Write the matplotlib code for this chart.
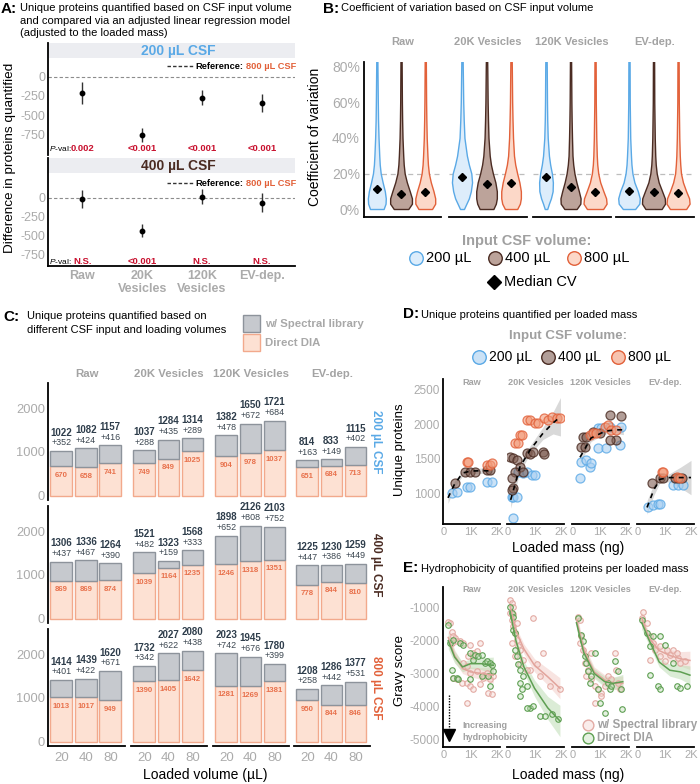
import matplotlib.pyplot as plt
from matplotlib.colors import to_rgba
import numpy as np

plt.rcParams['font.family'] = ['Liberation Sans', 'DejaVu Sans']
plt.rcParams['mathtext.fontset'] = 'custom'
plt.rcParams['mathtext.it'] = 'Liberation Sans:italic'
plt.rcParams['mathtext.rm'] = 'Liberation Sans'

# ---------------- data ----------------
facets = ['Raw', '20K Vesicles', '120K Vesicles', 'EV-dep.']
a_groups = ['Raw', '20K\nVesicles', '120K\nVesicles', 'EV-dep.']
volumes = ['200 µL', '400 µL', '800 µL']

# A: difference vs 800 uL reference (estimate, half CI)
a200_est = [-210, -760, -270, -340]
a200_ci = [150, 90, 100, 120]
a200_p = ['0.002', '<0.001', '<0.001', '<0.001']
a400_est = [-10, -430, 15, -60]
a400_ci = [120, 90, 100, 120]
a400_p = ['N.S.', '<0.001', 'N.S.', 'N.S.']

# B: violin outline (half width at each CV level) and median CV
cv_levels = [0, 3, 6, 10, 15, 20, 25, 30, 40, 50, 60, 80, 90]
cv_width_raw = [[0.28, 0.36, 0.37, 0.33, 0.24, 0.16, 0.12, 0.10, 0.07, 0.05, 0.04, 0.025, 0.02],
                [0.30, 0.45, 0.45, 0.36, 0.24, 0.15, 0.11, 0.09, 0.06, 0.045, 0.035, 0.025, 0.02],
                [0.28, 0.41, 0.41, 0.34, 0.23, 0.15, 0.11, 0.09, 0.06, 0.045, 0.035, 0.025, 0.02]]
cv_width_20k = [[0.08, 0.18, 0.28, 0.36, 0.41, 0.38, 0.28, 0.20, 0.10, 0.07, 0.05, 0.03, 0.02],
                [0.28, 0.38, 0.42, 0.42, 0.36, 0.26, 0.18, 0.13, 0.08, 0.06, 0.045, 0.03, 0.02],
                [0.25, 0.36, 0.40, 0.40, 0.34, 0.25, 0.17, 0.12, 0.08, 0.06, 0.045, 0.03, 0.02]]
cv_width_120k = [[0.05, 0.12, 0.20, 0.27, 0.28, 0.24, 0.17, 0.12, 0.07, 0.05, 0.04, 0.03, 0.02],
                 [0.25, 0.40, 0.41, 0.34, 0.24, 0.16, 0.11, 0.08, 0.06, 0.045, 0.035, 0.025, 0.02],
                 [0.33, 0.47, 0.45, 0.34, 0.21, 0.13, 0.09, 0.07, 0.05, 0.04, 0.03, 0.025, 0.02]]
cv_width_ev = [[0.25, 0.42, 0.44, 0.36, 0.22, 0.14, 0.10, 0.08, 0.05, 0.04, 0.03, 0.025, 0.02],
               [0.33, 0.47, 0.46, 0.35, 0.21, 0.13, 0.09, 0.07, 0.05, 0.04, 0.03, 0.025, 0.02],
               [0.33, 0.47, 0.45, 0.33, 0.20, 0.12, 0.09, 0.07, 0.05, 0.04, 0.03, 0.025, 0.02]]
cv_median = [[11.3, 8.5, 9.3], [18.0, 14.0, 14.6], [18.0, 12.4, 9.6], [10.4, 9.3, 8.8]]

# C: unique proteins (w/ spectral library total, direct DIA part)
c_total_200 = [[1022, 1082, 1157], [1037, 1284, 1314], [1382, 1650, 1721], [814, 833, 1115]]
c_dia_200 = [[670, 658, 741], [749, 849, 1025], [904, 978, 1037], [651, 684, 713]]
c_total_400 = [[1306, 1336, 1264], [1521, 1323, 1568], [1898, 2126, 2103], [1225, 1230, 1259]]
c_dia_400 = [[869, 869, 874], [1039, 1164, 1235], [1246, 1318, 1351], [778, 844, 810]]
c_total_800 = [[1414, 1439, 1620], [1732, 2027, 2080], [2023, 1945, 1780], [1208, 1286, 1377]]
c_dia_800 = [[1013, 1017, 949], [1390, 1405, 1642], [1281, 1269, 1381], [950, 844, 846]]
loaded_volume = ['20', '40', '80']

# D: unique proteins per loaded mass (ng)
d_mass_200 = [[300, 490, 870, 980, 1620, 1810],
              [150, 190, 340, 190, 380, 570, 720, 900, 1020],
              [265, 300, 490, 640, 680, 945, 1245, 945, 1060, 1400, 1775, 1810],
              [380, 565, 755, 830, 1320, 1510, 1700]]
d_prot_200 = [[1000, 1015, 1090, 1090, 1160, 1160],
              [940, 940, 940, 636, 1305, 1290, 1305, 1260, 1260],
              [1220, 1450, 1480, 1380, 1440, 1655, 1655, 1945, 1945, 1960, 1700, 1960],
              [796, 825, 840, 840, 1116, 1116, 1116]]
d_mass_400 = [[415, 790, 980, 1170, 1620, 1735],
              [75, 190, 340, 450, 570, 260, 150, 190, 720, 830, 940, 1320, 1360, 150],
              [300, 450, 380, 490, 755, 1020, 1400, 1810, 1620, 1400],
              [530, 830, 945, 1400, 1510, 1660]]
d_prot_400 = [[1145, 1305, 1305, 1305, 1335, 1335],
              [1524, 1510, 1480, 1380, 1305, 1305, 1220, 1070, 1580, 1570, 1600, 1600, 1570, 1045],
              [1670, 1670, 1815, 1815, 1890, 1870, 2135, 2120, 1770, 1770],
              [1145, 1220, 1220, 1220, 1220, 1220]]
d_mass_800 = [[870, 905, 1620, 1735, 1810],
              [264, 377, 453, 528, 717, 830, 1019, 1132, 1358, 1509, 1660, 1849, 1962],
              [640, 755, 870, 1210, 1320, 1430, 1620],
              [905, 945, 1470, 1585]]
d_prot_800 = [[1450, 1450, 1410, 1410, 1435],
              [1728, 1728, 1844, 1844, 2063, 2063, 2019, 2019, 2092, 2063, 2106, 2092, 2092],
              [1845, 1870, 1870, 1960, 1990, 1915, 1915],
              [1305, 1305, 1235, 1220]]
d_fit_x = [[150, 400, 700, 1000, 1500, 1850],
           [100, 450, 830, 1320, 1700, 1980],
           [265, 680, 1210, 1600, 1900],
           [340, 600, 830, 1200, 1600, 2000]]
d_fit_y = [[930, 1130, 1290, 1320, 1325, 1320],
           [900, 1380, 1625, 1870, 2020, 2110],
           [1520, 1800, 1900, 1920, 1920],
           [790, 1050, 1200, 1225, 1225, 1225]]
d_fit_se = [[80, 50, 40, 35, 40, 60],
            [120, 70, 60, 90, 160, 280],
            [90, 50, 40, 50, 70],
            [100, 80, 50, 60, 150, 250]]

# E: gravy score per loaded mass
e_mass_lib = [[163, 226, 289, 352, 415, 289, 477, 603, 729, 980, 1106, 1231, 1357, 917, 1106, 729, 854,
               980, 1231, 352, 477, 666, 854, 980, 1106, 854, 1483, 1608, 1734, 1671, 1797, 1860, 1357, 1483],
              [75, 138, 201, 75, 138, 201, 264, 327, 390, 452, 138, 264, 955, 1332, 829, 1081, 1206, 1583,
               1960, 452, 578, 704, 201, 327],
              [189, 252, 314, 252, 377, 440, 566, 503, 691, 817, 943, 1068, 1194, 1320, 1445, 1571, 1634,
               1697, 1760, 817, 1068, 691],
              [201, 138, 327, 452, 578, 640, 452, 829, 1081, 1206, 1332, 1520, 1583, 1772, 829, 1018, 1458]]
e_gravy_lib = [[-1415, -1465, -1718, -1869, -1920, -2071, -2021, -2021, -2071, -2122, -2374, -2324, -2071,
                -2475, -2475, -2677, -2778, -2980, -2930, -3132, -3182, -3283, -3283, -3384, -3485, -3889,
                -3031, -2980, -3182, -3586, -3637, -3081, -3334, -3132],
               [-760, -860, -960, -1160, -1360, -1560, -1760, -1970, -2170, -2270, -2070, -2470, -1310, -2374,
                -2879, -2700, -3081, -3384, -3485, -2700, -2600, -2900, -1180, -1460],
               [-1263, -1364, -1869, -2071, -2273, -2677, -2879, -3081, -3182, -3384, -3485, -3586, -3384,
                -3081, -3182, -2374, -2879, -3283, -3485, -3889, -3687, -2374],
               [-1112, -1314, -1465, -1869, -2071, -2273, -2576, -2172, -2273, -2425, -2273, -2525, -2677,
                -2627, -2475, -2627, -2374]]
e_mass_dia = [[163, 226, 352, 289, 352, 477, 540, 603, 729, 980, 1168, 1294, 1106, 1420, 1546, 1608, 1734,
               1797, 1671, 1734, 1420, 980, 1860],
              [138, 201, 264, 327, 452, 578, 704, 452, 829, 704, 955, 1206, 1395, 1646, 1898, 452, 515, 264,
               201, 75, 390],
              [189, 314, 377, 440, 503, 566, 691, 629, 943, 1006, 1194, 1383, 1320, 1571, 1697, 1822, 1860,
               1445, 817],
              [138, 327, 452, 578, 829, 1018, 766, 829, 452, 1458, 1583, 1835, 1332]]
e_gravy_dia = [[-1515, -2071, -1970, -2879, -3132, -3132, -3182, -2071, -2122, -2374, -2425, -2475, -2576,
                -2425, -2677, -2627, -2677, -2728, -3081, -3384, -3081, -3182, -2930],
               [-1162, -1667, -2273, -2475, -2879, -3081, -3384, -3687, -4040, -4040, -3990, -4293, -4293,
                -4242, -4394, -3283, -3485, -1768, -1263, -960, -2700],
               [-1314, -1819, -2021, -2475, -2677, -2930, -3081, -3283, -3485, -3889, -4192, -3485, -3283,
                -2627, -2930, -3485, -4091, -3384, -2374],
               [-1364, -1768, -2172, -1869, -1869, -2122, -3384, -3485, -3031, -3384, -3434, -3384, -2677]]
e_fit_x = [[160, 400, 700, 1000, 1400, 1860],
           [75, 300, 600, 1000, 1500, 1960],
           [130, 400, 800, 1200, 1500, 1880],
           [140, 400, 800, 1200, 1600, 1960]]
e_fit_lib = [[-1900, -2450, -2850, -2950, -3000, -3050],
             [-950, -1700, -2250, -2750, -3100, -3450],
             [-1350, -2250, -2950, -3200, -3300, -3300],
             [-1300, -1900, -2300, -2450, -2550, -2600]]
e_fit_dia = [[-2000, -2500, -2800, -2700, -2700, -2750],
             [-1100, -2000, -2800, -3450, -4050, -4450],
             [-1450, -2350, -3000, -3250, -3300, -3250],
             [-1450, -1950, -2650, -2900, -2950, -3050]]
e_se_lib = [[250, 180, 150, 150, 180, 250],
            [150, 120, 150, 200, 250, 320],
            [200, 150, 150, 160, 180, 220],
            [200, 150, 150, 180, 220, 280]]
e_se_dia = [[250, 180, 150, 150, 180, 250],
            [180, 150, 180, 250, 350, 480],
            [200, 150, 150, 160, 180, 220],
            [200, 150, 150, 180, 220, 280]]

# ---------------- style ----------------
GRAY = '#ABABAB'
FACET = '#A3A3A3'
EDGES = ['#5AA9E6', '#4A2B22', '#E2613A']
VFILL = ['#DDEDFB', '#BCA39A', '#FCD8C8']
DFILL = ['#A9CFF1', '#7F5E53', '#F29B7A']
LIB_E, LIB_F = '#E3ABA4', '#F4D2CD'
DIA_E, DIA_F = '#5E9F52', '#BFDDB5'

W, H = 700, 784
fig = plt.figure(figsize=(7, 7.84), dpi=100)

lay = fig.add_axes([0, 0, 1, 1], zorder=20)
lay.set_xlim(0, W)
lay.set_ylim(H, 0)
lay.axis('off')


def px_ax(x0, y0, x1, y1):
    ax = fig.add_axes([x0 / W, 1 - y1 / H, (x1 - x0) / W, (y1 - y0) / H])
    ax.patch.set_alpha(0)
    for s in ax.spines.values():
        s.set_visible(False)
    ax.tick_params(length=0, colors=GRAY, labelsize=9, pad=2)
    ax.set_xticks([])
    ax.set_yticks([])
    return ax


def spine(ax, side):
    ax.spines[side].set_visible(True)
    ax.spines[side].set_color('black')
    ax.spines[side].set_linewidth(1.3)


def t(x, y, s, **kw):
    kw.setdefault('va', 'center')
    kw.setdefault('ha', 'left')
    return lay.text(x, y, s, **kw)


# ---------------- A ----------------
t(1, 9, 'A:', fontsize=11, fontweight='bold')
t(20, 8, 'Unique proteins quantified based on CSF input volume', fontsize=8)
t(20, 21, 'and compared via an adjusted linear regression model', fontsize=8)
t(20, 33, '(adjusted to the loaded mass)', fontsize=8)
t(10, 158, 'Difference in proteins quantified', rotation=90, ha='center', fontsize=9.7)

a_specs = [(43, 58, 155, (-1026, 447), 250, a200_est, a200_ci, a200_p, '200 µL CSF', EDGES[0], -934, 66),
           (158, 173, 266, (-895, 526), 329, a400_est, a400_ci, a400_p, '400 µL CSF', EDGES[1], -842, 183)]
for k, (ys, yb, ye, ylim, strip0, est, ci, pv, lab, col, py, ry) in enumerate(a_specs):
    ax = px_ax(48, ys, 295, ye)
    ax.set_xlim(-0.57, 3.55)
    ax.set_ylim(*ylim)
    ax.axhspan(strip0, ylim[1], color='#ECEDF1', lw=0, zorder=0)
    ax.axhline(0, color='#8C8C8C', lw=0.8, ls=(0, (3, 2)))
    ax.errorbar(range(4), est, yerr=ci, fmt='o', ms=3.2, color='black', ecolor='#333333',
                elinewidth=1, capsize=0)
    ax.set_yticks([0, -250, -500, -750])
    ax.set_yticklabels(['0', '-250', '-500', '-750'], fontsize=9)
    spine(ax, 'left')
    ax.text(-0.55, py, '$P$-val:', fontsize=6, va='center', ha='left')
    for i, p in enumerate(pv):
        ax.text(i, py, p, fontsize=6.8, fontweight='bold', color='#C8102E', ha='center', va='center')
    t(178, (ys + yb) / 2, lab, ha='center', fontsize=10, fontweight='bold', color=col)
    lay.plot([167, 193], [ry, ry], color='#333333', lw=1, ls=(0, (2.5, 1.5)))
    t(243, ry, 'Reference:', ha='right', fontsize=6.7, fontweight='bold')
    t(246, ry, '800 µL CSF', fontsize=6.7, fontweight='bold', color=EDGES[2])
    if k == 1:
        spine(ax, 'bottom')
        ax.set_xticks(range(4))
        ax.set_xticklabels(a_groups, fontsize=9, fontweight='bold', linespacing=1.05)
        ax.tick_params(axis='x', pad=3)

# ---------------- B ----------------
t(323, 9, 'B:', fontsize=11, fontweight='bold')
t(341, 8, 'Coefficient of variation based on CSF input volume', fontsize=8)
t(315, 137, 'Coefficient of variation', rotation=90, ha='center', fontsize=10)
b_fx = [(364, 441), (449, 527), (533, 611), (616, 694)]
cv_widths = [cv_width_raw, cv_width_20k, cv_width_120k, cv_width_ev]
for fi, (x0, x1) in enumerate(b_fx):
    ax = px_ax(x0, 62, x1, 217)
    ax.set_xlim(0.47, 3.65)
    ax.set_ylim(-4.5, 82.8)
    ax.axhline(20, color='#BDBDBD', lw=0.9, ls=(0, (4, 3)), zorder=0)
    for gi in range(3):
        w = np.array(cv_widths[fi][gi])
        ax.fill_betweenx(cv_levels, gi + 1 - w, gi + 1 + w, facecolor=VFILL[gi],
                         edgecolor=EDGES[gi], lw=1)
        ax.plot(gi + 1, cv_median[fi][gi], 'D', color='black', ms=4.5)
    spine(ax, 'bottom')
    if fi == 0:
        spine(ax, 'left')
        ax.set_yticks([0, 20, 40, 60, 80])
        ax.set_yticklabels(['0%', '20%', '40%', '60%', '80%'], fontsize=10)
        ax.tick_params(axis='y', pad=3)
    t((x0 + x1) / 2, 42, facets[fi], ha='center', fontsize=8, fontweight='bold', color=FACET)

t(527, 241, 'Input CSF volume:', ha='center', fontsize=10.5, fontweight='bold', color='#A0A0A0')
for gi, xc in enumerate([416, 495, 574]):
    lay.scatter([xc], [258], s=95, facecolor=VFILL[gi], edgecolor=EDGES[gi], lw=1)
    t(xc + 10, 258, volumes[gi], fontsize=10.5)
lay.plot([494], [282], 'D', color='black', ms=7)
t(504, 282, 'Median CV', fontsize=10.5)

# ---------------- C ----------------
t(3, 317, 'C:', fontsize=11, fontweight='bold')
t(27, 316, 'Unique proteins quantified based on', fontsize=8)
t(27, 330, 'different CSF input and loading volumes', fontsize=8)
lay.add_patch(plt.Rectangle((243, 315), 17, 17, facecolor='#C6C9CE', edgecolor='#8D939B', lw=1))
lay.add_patch(plt.Rectangle((243, 334), 17, 17, facecolor='#FDE1D3', edgecolor='#F2A98C', lw=1))
t(265, 324, 'w/ Spectral library', fontsize=8.2, fontweight='bold', color='#A8A8A8')
t(265, 343, 'Direct DIA', fontsize=8.2, fontweight='bold', color='#A8A8A8')

c_fx = [(48, 125), (131, 207), (213, 289), (294, 370)]
c_rows = [(383, 500), (506, 623), (629, 746)]
c_totals = [c_total_200, c_total_400, c_total_800]
c_dias = [c_dia_200, c_dia_400, c_dia_800]
row_labels = ['200 µL CSF', '400 µL CSF', '800 µL CSF']
for ri, (y0, y1) in enumerate(c_rows):
    for fi, (x0, x1) in enumerate(c_fx):
        ax = px_ax(x0, y0, x1, y1)
        ax.set_xlim(0.45, 3.6)
        ax.set_ylim(-100, 2580)
        tot = np.array(c_totals[ri][fi])
        dia = np.array(c_dias[ri][fi])
        xs = np.arange(1, 4)
        ax.bar(xs, dia, width=0.9, facecolor='#FDE1D3', edgecolor='#F2A98C', lw=1)
        ax.bar(xs, tot - dia, bottom=dia, width=0.9, facecolor='#C6C9CE', edgecolor='#8D939B', lw=1)
        for x, a, b in zip(xs, tot, dia):
            ax.text(x, a + 420, str(a), ha='center', va='center', fontsize=7, fontweight='bold',
                    color='#2E3D4B')
            ax.text(x, a + 185, '+%d' % (a - b), ha='center', va='center', fontsize=6.4,
                    color='#3B4650')
            ax.text(x, b - 210, str(b), ha='center', va='center', fontsize=5.6, fontweight='bold',
                    color='#E8714C')
        if fi == 0:
            spine(ax, 'left')
            ax.set_yticks([0, 1000, 2000])
            ax.set_yticklabels(['0', '1000', '2000'], fontsize=9.3)
        if ri == 2:
            spine(ax, 'bottom')
            ax.set_xticks(xs)
            ax.set_xticklabels(loaded_volume, fontsize=9.5)
            ax.tick_params(axis='x', pad=4)
        if ri == 0:
            t((x0 + x1) / 2, 374, facets[fi], ha='center', fontsize=8.2, fontweight='bold', color=FACET)
    t(376, (y0 + y1) / 2, row_labels[ri], rotation=-90, ha='center', fontsize=8.5,
      fontweight='bold', color=EDGES[ri])
t(205, 775, 'Loaded volume (µL)', ha='center', fontsize=10)

# ---------------- D ----------------
t(403, 314, 'D:', fontsize=11, fontweight='bold')
t(421, 315, 'Unique proteins quantified per loaded mass', fontsize=8)
t(568, 336, 'Input CSF volume:', ha='center', fontsize=9.6, fontweight='bold', color='#A0A0A0')
for gi, xc in enumerate([479, 548, 618]):
    lay.scatter([xc], [357], s=95, facecolor=to_rgba(DFILL[gi], 0.6), edgecolor=EDGES[gi], lw=1)
    t(xc + 10, 357, volumes[gi], fontsize=10)
t(400, 450, 'Unique proteins', rotation=90, ha='center', fontsize=9.5)
t(568, 548, 'Loaded mass (ng)', ha='center', fontsize=10)

de_fx = [(443, 500), (507, 564), (572, 629), (637, 694)]
d_mass = [d_mass_200, d_mass_400, d_mass_800]
d_prot = [d_prot_200, d_prot_400, d_prot_800]
for fi, (x0, x1) in enumerate(de_fx):
    ax = px_ax(x0, 379, x1, 524)
    ax.set_xlim(-38, 2113)
    ax.set_ylim(549, 2660)
    fx = np.array(d_fit_x[fi])
    fy = np.array(d_fit_y[fi])
    se = np.array(d_fit_se[fi])
    ax.fill_between(fx, fy - se, fy + se, color='#C9C9C9', alpha=0.7, lw=0)
    for gi in range(3):
        ax.scatter(d_mass[gi][fi], d_prot[gi][fi], s=42, facecolor=to_rgba(DFILL[gi], 0.6),
                   edgecolor=to_rgba(EDGES[gi], 0.8), lw=0.9)
    ax.plot(fx, fy, color='black', lw=1.2, ls=(0, (3, 3)))
    spine(ax, 'bottom')
    ax.set_xticks([0, 1000, 2000])
    ax.set_xticklabels(['0', '1K', '2K'], fontsize=8)
    if fi == 0:
        spine(ax, 'left')
        ax.set_yticks([1000, 1500, 2000, 2500])
        ax.set_yticklabels(['1000', '1500', '2000', '2500'], fontsize=8.5)
    t((x0 + x1) / 2, 382, facets[fi], ha='center', fontsize=6.6, fontweight='bold', color=FACET)

# ---------------- E ----------------
t(403, 568, 'E:', fontsize=11, fontweight='bold')
t(421, 569, 'Hydrophobicity of quantified proteins per loaded mass', fontsize=8)
t(400, 670, 'Gravy score', rotation=90, ha='center', fontsize=9.5)
t(568, 775, 'Loaded mass (ng)', ha='center', fontsize=10)
for fi, (x0, x1) in enumerate(de_fx):
    ax = px_ax(x0, 587, x1, 747)
    ax.set_xlim(-38, 2113)
    ax.set_ylim(-5244, -359)
    fx = np.array(e_fit_x[fi])
    yl, yd = np.array(e_fit_lib[fi]), np.array(e_fit_dia[fi])
    sl, sd = np.array(e_se_lib[fi]), np.array(e_se_dia[fi])
    ax.fill_between(fx, yl - sl, yl + sl, color=LIB_F, alpha=0.6, lw=0)
    ax.fill_between(fx, yd - sd, yd + sd, color=DIA_F, alpha=0.55, lw=0)
    ax.scatter(e_mass_lib[fi], e_gravy_lib[fi], s=16, facecolor=to_rgba(LIB_F, 0.4),
               edgecolor=LIB_E, lw=0.8)
    ax.scatter(e_mass_dia[fi], e_gravy_dia[fi], s=16, facecolor=to_rgba(DIA_F, 0.4),
               edgecolor=DIA_E, lw=0.8)
    ax.plot(fx, yl, color='#E2A49C', lw=1.1)
    ax.plot(fx, yd, color='#5E9F52', lw=1.1)
    spine(ax, 'bottom')
    ax.set_xticks([0, 1000, 2000])
    ax.set_xticklabels(['0', '1K', '2K'], fontsize=8)
    if fi == 0:
        spine(ax, 'left')
        ax.set_yticks([-1000, -2000, -3000, -4000, -5000])
        ax.set_yticklabels(['-1000', '-2000', '-3000', '-4000', '-5000'], fontsize=8.5)
    t((x0 + x1) / 2, 589, facets[fi], ha='center', fontsize=6.6, fontweight='bold', color=FACET)

lay.plot([449, 449], [695, 731], color='black', lw=1, ls=(0, (1, 1)))
lay.plot([449], [735], 'v', color='black', ms=8)
t(462, 726, 'Increasing', fontsize=6.5, fontweight='bold', color='#A0A0A0')
t(462, 737, 'hydrophobicity', fontsize=6.5, fontweight='bold', color='#A0A0A0')
lay.scatter([588], [725], s=60, facecolor=to_rgba(LIB_F, 0.4), edgecolor=LIB_E, lw=1)
t(597, 725, 'w/ Spectral library', fontsize=8.4, fontweight='bold', color='#A0A0A0')
lay.scatter([588], [738], s=60, facecolor=to_rgba(DIA_F, 0.4), edgecolor=DIA_E, lw=1)
t(597, 738, 'Direct DIA', fontsize=8.4, fontweight='bold', color='#A0A0A0')

fig.savefig('out.png', dpi=100)
